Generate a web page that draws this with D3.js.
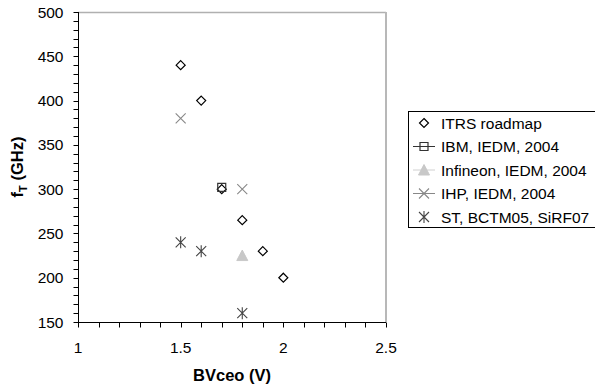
<!DOCTYPE html>
<html>
<head>
<meta charset="utf-8">
<script src="https://cdn.jsdelivr.net/npm/d3@7"></script>
<style>
  html, body { margin: 0; padding: 0; background: #fff; }
  svg { display: block; font-family: "Liberation Sans", Arial, sans-serif; }
</style>
</head>
<body>
<svg id="chart" width="595" height="385"></svg>
<script>
// f_T versus BVceo for SiGe HBTs
const itrs     = [[1.5, 440], [1.6, 400], [1.7, 300], [1.8, 265], [1.9, 230], [2.0, 200]];
const ibm      = [[1.7, 302]];
const infineon = [[1.8, 225]];
const ihp      = [[1.5, 380], [1.8, 300]];
const st       = [[1.5, 240], [1.6, 230], [1.8, 160]];

const seriesNames = ["ITRS roadmap", "IBM, IEDM, 2004", "Infineon, IEDM, 2004", "IHP, IEDM, 2004", "ST, BCTM05, SiRF07"];
const xTicks = [1, 1.5, 2, 2.5];
const yTicks = [150, 200, 250, 300, 350, 400, 450, 500];

const svg = d3.select("#chart");
const plotL = 78, plotR = 386, plotT = 12, plotB = 322;

const x = d3.scaleLinear().domain([1, 2.5]).range([plotL, plotR]);
const y = d3.scaleLinear().domain([150, 500]).range([plotB, plotT]);

// plot frame (top and right edges)
svg.append("line").attr("x1", plotL).attr("x2", plotR).attr("y1", plotT + 0.5).attr("y2", plotT + 0.5)
  .attr("stroke", "#b0b0b0").attr("stroke-width", 1.5);
svg.append("line").attr("x1", plotR).attr("x2", plotR).attr("y1", plotT).attr("y2", plotB)
  .attr("stroke", "#b8b8b8").attr("stroke-width", 2);

// minor ticks
const yMinor = d3.range(150, 501, 10);
const xMinor = d3.range(10, 26).map(d => d / 10);

const yAxis = svg.append("g").attr("transform", `translate(${plotL + 0.5},0)`);
yAxis.selectAll("line.minor").data(yMinor).join("line")
  .attr("x1", -5).attr("x2", 0)
  .attr("y1", d => Math.round(y(d)) + 0.5).attr("y2", d => Math.round(y(d)) + 0.5)
  .attr("stroke", "#000");
yAxis.append("line").attr("x1", 0).attr("x2", 0).attr("y1", plotT).attr("y2", plotB + 0.5).attr("stroke", "#000");
yAxis.selectAll("text").data(yTicks).join("text")
  .attr("x", -15).attr("y", d => y(d)).attr("dy", "0.36em")
  .attr("text-anchor", "end").attr("font-size", 15.5).text(d => d);

const xAxis = svg.append("g").attr("transform", `translate(0,${plotB + 0.5})`);
xAxis.selectAll("line.minor").data(xMinor).join("line")
  .attr("y1", 0).attr("y2", 5)
  .attr("x1", d => Math.round(x(d)) + 0.5).attr("x2", d => Math.round(x(d)) + 0.5)
  .attr("stroke", "#000");
xAxis.append("line").attr("x1", plotL).attr("x2", plotR).attr("y1", 0).attr("y2", 0).attr("stroke", "#000");
xAxis.selectAll("text").data(xTicks).join("text")
  .attr("x", d => x(d)).attr("y", 25).attr("dy", "0.36em")
  .attr("text-anchor", "middle").attr("font-size", 15.5).text(d => d);

// axis titles
svg.append("text").attr("x", (plotL + plotR) / 2).attr("y", 375).attr("dy", "0.36em")
  .attr("text-anchor", "middle").attr("font-size", 16.5).attr("font-weight", "bold").text("BVceo (V)");
const yt = svg.append("text").attr("transform", `translate(23,${(plotT + plotB) / 2}) rotate(-90)`)
  .attr("text-anchor", "middle").attr("font-size", 16.5).attr("font-weight", "bold");
yt.append("tspan").text("f");
yt.append("tspan").attr("font-size", 11).attr("dy", 4).text("T");
yt.append("tspan").attr("dy", -4).text(" (GHz)");

// marker drawers
const markers = {
  diamond: (g) => g.append("path").attr("d", "M0,-4.5L4.5,0L0,4.5L-4.5,0Z")
    .attr("fill", "#fff").attr("stroke", "#000").attr("stroke-width", 1.2),
  square: (g) => g.append("path").attr("d", "M-4,-4H4V4H-4Z")
    .attr("fill", "none").attr("stroke", "#333").attr("stroke-width", 1.2),
  triangle: (g) => g.append("path").attr("d", "M0,-5.5L5.5,5L-5.5,5Z")
    .attr("fill", "#c8c8c8").attr("stroke", "#c8c8c8"),
  cross: (g) => g.append("path").attr("d", "M-5,-5L5,5M-5,5L5,-5")
    .attr("stroke", "#888").attr("stroke-width", 1.1).attr("fill", "none"),
  star: (g) => g.append("path").attr("d", "M-5,-5L5,5M-5,5L5,-5M0,-6V6")
    .attr("stroke", "#444").attr("stroke-width", 1.1).attr("fill", "none")
};

const series = [
  { name: seriesNames[0], data: itrs, marker: "diamond", line: null },
  { name: seriesNames[1], data: ibm, marker: "square", line: "#333" },
  { name: seriesNames[2], data: infineon, marker: "triangle", line: "#d0d0d0" },
  { name: seriesNames[3], data: ihp, marker: "cross", line: "#888" },
  { name: seriesNames[4], data: st, marker: "star", line: null }
];

// draw points (IBM last so its square sits over the diamond)
const order = [0, 2, 3, 4, 1];
order.forEach(i => {
  const s = series[i];
  s.data.forEach(d => {
    const g = svg.append("g").attr("transform", `translate(${x(d[0])},${y(d[1])})`);
    markers[s.marker](g);
  });
});

// legend
const lg = svg.append("g").attr("transform", "translate(408,111)");
lg.append("rect").attr("x", 0.5).attr("y", 0.5).attr("width", 220).attr("height", 116)
  .attr("fill", "#fff").attr("stroke", "#000");
series.forEach((s, i) => {
  const cy = 12 + i * 23.5;
  const row = lg.append("g").attr("transform", `translate(0,${cy})`);
  if (s.line) row.append("line").attr("x1", 5).attr("x2", 27).attr("y1", 0).attr("y2", 0).attr("stroke", s.line);
  const m = row.append("g").attr("transform", "translate(16,0)");
  markers[s.marker](m);
  row.append("text").attr("x", 33).attr("y", 0).attr("dy", "0.36em").attr("font-size", 15.5).text(s.name);
});
</script>
</body>
</html>
